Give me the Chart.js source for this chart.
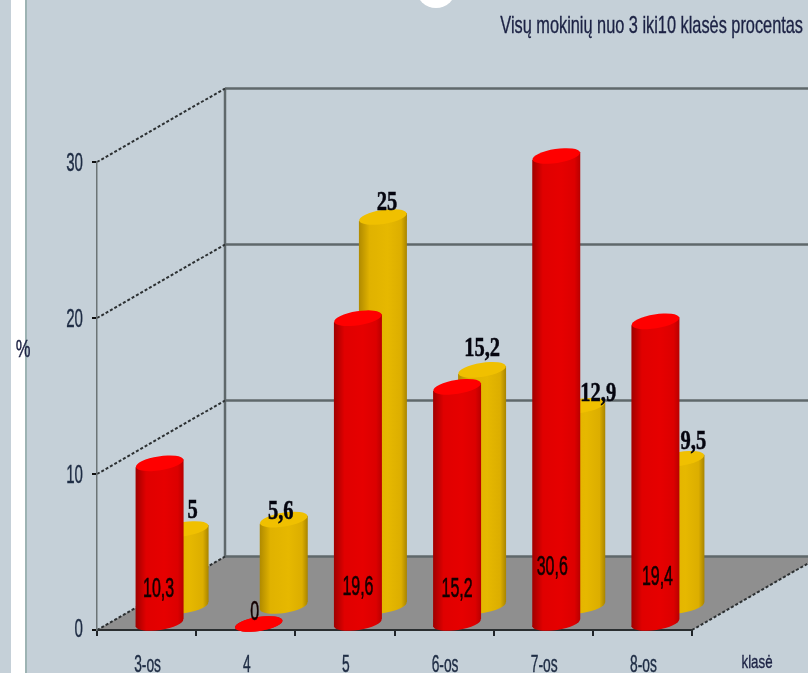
<!DOCTYPE html>
<html>
<head>
<meta charset="utf-8">
<title>Visų mokinių procentas</title>
<script src="https://cdn.jsdelivr.net/npm/chart.js@4"></script>
<style>
    html, body { margin: 0; padding: 0; background: #c5d0d8; overflow: hidden; }
    canvas { display: block; filter: blur(0.7px); }
</style>
</head>
<body>
<canvas id="chart" width="808" height="673"></canvas>
<script>
// Values
const categories = ['3-os', '4', '5', '6-os', '7-os', '8-os'];
const redValues = [10.3, 0, 19.6, 15.2, 30.6, 19.4];
const yellowValues = [5, 5.6, 25, 15.2, 12.9, 9.5];
const yTicks = [0, 10, 20, 30];

const titleText = 'Visų mokinių nuo 3 iki10 klasės procentas';

// Hand placed labels, the original chart moves them around (dx, dy from the cylinder top)
const yellowLabelShift = [[8, -18], [-3, -8], [4, -14], [0, -21], [17, -12], [13, -17]];
const redLabelY = [589, 612, 587, 589, 567, 577];
const redLabelDx = [-1, -4, 0, 0, -4, 2];

const BG = '#c5d0d8';
const DEPTH_X = 128, DEPTH_Y = -73.5;   // floor depth
const CYL_R = 24, CYL_RY = 7, CYL_ROT = -9 * Math.PI / 180;
const SLANT = 4;

const redStyle = { dx: 13, dy: -6, top: '#ff0000', stops: ['#a00000', '#e00000', '#e60000', '#dc0000', '#b80000'] };
const yellowStyle = { dx: 38, dy: -23, top: '#f0c000', stops: ['#b08a00', '#e0b200', '#e6b800', '#dcae00', '#a88400'] };

// narrow text, the reference is squeezed horizontally
function squeezed(ctx, text, x, y, font, sx, align, color, heavy) {
    ctx.save();
    ctx.translate(x, y);
    ctx.scale(sx, 1);
    ctx.font = font;
    ctx.fillStyle = color;
    ctx.textAlign = align;
    ctx.textBaseline = 'middle';
    ctx.fillText(text, 0, 0);
    if (heavy) {
        ctx.strokeStyle = color;
        ctx.lineWidth = heavy;
        ctx.strokeText(text, 0, 0);
    }
    ctx.restore();
}

function drawCylinder(ctx, cx, topY, baseY, style) {
    const grad = ctx.createLinearGradient(cx - CYL_R, 0, cx + CYL_R, 0);
    grad.addColorStop(0, style.stops[0]);
    grad.addColorStop(0.22, style.stops[1]);
    grad.addColorStop(0.6, style.stops[2]);
    grad.addColorStop(0.88, style.stops[3]);
    grad.addColorStop(1, style.stops[4]);

    ctx.fillStyle = grad;
    ctx.beginPath();
    ctx.ellipse(cx, baseY, CYL_R, CYL_RY, CYL_ROT, 0, Math.PI * 2);
    ctx.fill();
    ctx.beginPath();
    ctx.moveTo(cx - CYL_R, topY + SLANT);
    ctx.lineTo(cx + CYL_R, topY - SLANT);
    ctx.lineTo(cx + CYL_R, baseY - SLANT);
    ctx.lineTo(cx - CYL_R, baseY + SLANT);
    ctx.closePath();
    ctx.fill();

    ctx.fillStyle = style.top;
    ctx.beginPath();
    ctx.ellipse(cx, topY, CYL_R, CYL_RY, CYL_ROT, 0, Math.PI * 2);
    ctx.fill();
}

const backdropPlugin = {
    id: 'backdrop',
    beforeDraw(chart) {
        const ctx = chart.ctx;
        const x = chart.scales.x, y = chart.scales.y;
        const left = x.left, right = x.right, y0 = y.getPixelForValue(0);

        ctx.save();
        ctx.fillStyle = BG;
        ctx.fillRect(0, 0, chart.width, chart.height);

        // page strip on the left and the cut off circle at the top
        ctx.fillStyle = '#ffffff';
        ctx.fillRect(11, 0, 14, chart.height);
        ctx.fillStyle = '#9db3b3';
        ctx.fillRect(25, 0, 2, chart.height);
        ctx.fillStyle = '#ffffff';
        ctx.beginPath();
        ctx.arc(436, -12, 20, 0, Math.PI * 2);
        ctx.fill();

        // floor
        ctx.fillStyle = '#8f8f8f';
        ctx.beginPath();
        ctx.moveTo(left, y0);
        ctx.lineTo(left + DEPTH_X, y0 + DEPTH_Y);
        ctx.lineTo(right + DEPTH_X, y0 + DEPTH_Y);
        ctx.lineTo(right, y0);
        ctx.closePath();
        ctx.fill();

        // back wall lines
        ctx.strokeStyle = '#5f686b';
        ctx.lineWidth = 2.5;
        yTicks.forEach(t => {
            const py = y.getPixelForValue(t) + DEPTH_Y;
            ctx.beginPath();
            ctx.moveTo(left + DEPTH_X, py);
            ctx.lineTo(chart.width, py);
            ctx.stroke();
        });
        ctx.beginPath();
        ctx.moveTo(left + DEPTH_X, y.getPixelForValue(30) + DEPTH_Y);
        ctx.lineTo(left + DEPTH_X, y0 + DEPTH_Y);
        ctx.stroke();

        // side wall diagonals
        ctx.strokeStyle = '#2c3032';
        ctx.lineWidth = 2;
        ctx.setLineDash([3, 2]);
        yTicks.forEach(t => {
            const py = y.getPixelForValue(t);
            ctx.beginPath();
            ctx.moveTo(left, py);
            ctx.lineTo(left + DEPTH_X, py + DEPTH_Y);
            ctx.stroke();
        });
        ctx.beginPath();
        ctx.moveTo(right, y0);
        ctx.lineTo(right + DEPTH_X, y0 + DEPTH_Y);
        ctx.stroke();
        ctx.restore();
    },
    afterDatasetsDraw(chart) {
        const ctx = chart.ctx;
        const x = chart.scales.x, y = chart.scales.y;
        const fontSans = '28px "Liberation Sans"';
        const fontSerif = 'bold 27px "Liberation Serif"';

        // tick labels
        yTicks.forEach(t => {
            squeezed(ctx, String(t), 83, y.getPixelForValue(t) + (t ? 2 : 0), '26px "Liberation Sans"', 0.58, 'right', '#1e2c44', 0.4);
        });
        categories.forEach((c, i) => {
            squeezed(ctx, c, x.getPixelForTick(i) + 1, 666, '23px "Liberation Sans"', 0.6, 'center', '#1e2c44', 0.4);
        });

        // value labels
        const comma = v => String(v).replace('.', ',');
        yellowValues.forEach((v, i) => {
            const el = chart.getDatasetMeta(1).data[i];
            const topY = Math.max(el.y, y.top) + yellowStyle.dy;
            squeezed(ctx, comma(v), el.x + yellowStyle.dx + yellowLabelShift[i][0], topY + yellowLabelShift[i][1],
                fontSerif, 0.76, 'center', '#05050f', 0.5);
        });
        redValues.forEach((v, i) => {
            const el = chart.getDatasetMeta(0).data[i];
            squeezed(ctx, comma(v), el.x + redStyle.dx + redLabelDx[i], redLabelY[i], fontSans, 0.57, 'center', '#140000', 0.6);
        });

        // titles
        squeezed(ctx, titleText, 803, 26, '24px "Liberation Sans"', 0.68, 'right', '#1c2244', 0.35);
        squeezed(ctx, '%', 23, 351, '23px "Liberation Sans"', 0.72, 'center', '#1c2244', 0.4);
        squeezed(ctx, 'klasė', 757, 663, '19px "Liberation Sans"', 0.7, 'center', '#1c2244', 0.35);
    }
};

// the cylinders are drawn at the positions of the library's bar elements
const cylinderPlugin = {
    id: 'cylinders',
    beforeDatasetDraw(chart, args) {
        const ctx = chart.ctx;
        const style = args.index === 0 ? redStyle : yellowStyle;
        const top = chart.scales.y.top;   // Excel cuts the bar at the axis maximum
        ctx.save();
        args.meta.data.forEach(el => {
            const topY = Math.max(el.y, top);
            drawCylinder(ctx, el.x + style.dx, topY + style.dy, el.base + style.dy, style);
        });
        ctx.restore();
    }
};

const ctx = document.getElementById('chart').getContext('2d');
new Chart(ctx, {
    type: 'bar',
    data: {
        labels: categories,
        datasets: [
            { label: 'Red', data: redValues, backgroundColor: 'transparent', grouped: false },
            { label: 'Yellow', data: yellowValues, backgroundColor: 'transparent', grouped: false },
        ],
    },
    options: {
        responsive: false,
        animation: false,
        layout: { padding: { left: 92, right: 116, top: 162, bottom: 37 } },
        plugins: {
            legend: { display: false },
            tooltip: { enabled: false },
        },
        scales: {
            x: {
                ticks: { display: false },
                grid: { offset: true, drawOnChartArea: false, color: '#202428', lineWidth: 2, tickLength: 6 },
                border: { color: '#2a2e30', width: 2 },
            },
            y: {
                min: 0,
                max: 30,
                ticks: { display: false, stepSize: 10 },
                grid: { drawOnChartArea: false, color: '#101010', lineWidth: 2, tickLength: 5 },
                border: { color: '#6c7476', width: 1.5 },
            },
        },
    },
    plugins: [backdropPlugin, cylinderPlugin],
});
</script>
</body>
</html>
